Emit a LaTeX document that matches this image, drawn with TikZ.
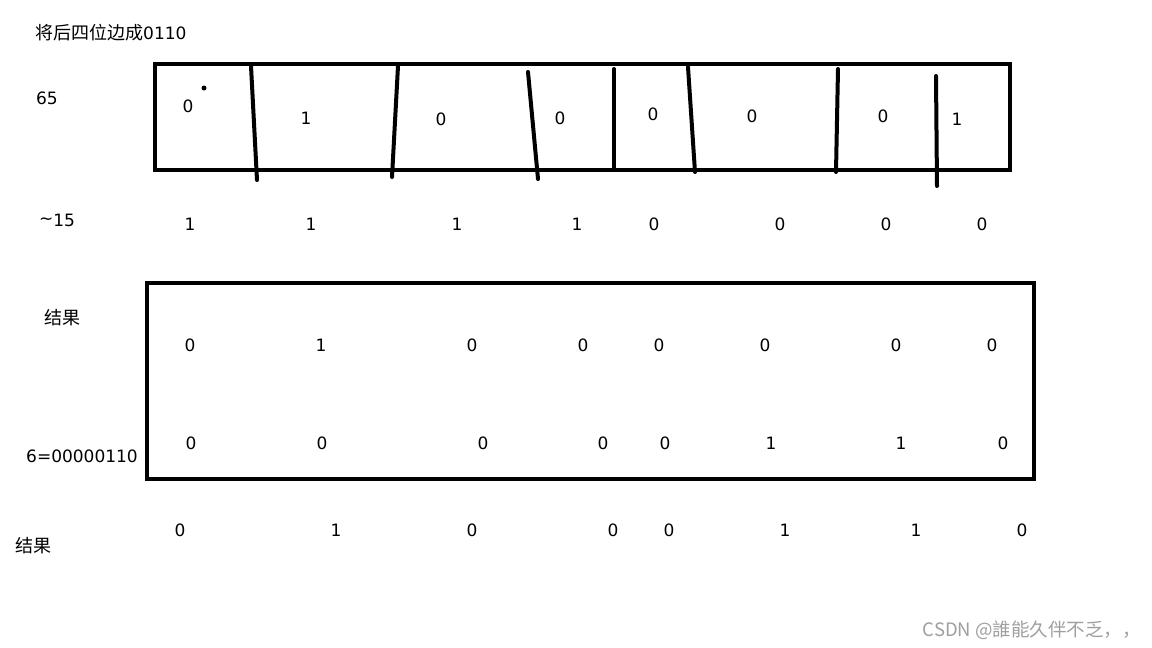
\documentclass[tikz,border=0pt]{standalone}
\usepackage{fontspec}
\setmainfont{DejaVu Sans}
\newfontfamily\cjk{Noto Sans CJK SC}
\begin{document}
\begin{tikzpicture}[x=1pt,y=-1pt,
  txt/.style={inner sep=0pt,font=\fontsize{17}{20}\selectfont},
  frame/.style={line width=4pt},
  divider/.style={line width=4pt,line cap=round},
  wmark/.style={text=gray!75,inner sep=0pt,font=\cjk\fontsize{18.5}{20}\selectfont}]
\useasboundingbox[fill=white] (0,0) rectangle (1152,648);
% labels
\node[txt,anchor=west] (title) at (35,33) {{\cjk\fontsize{18}{20}\selectfont 将后四位边成}0110};
\node[txt] (l65) at (47,98) {65};
\node[txt] (l15) at (57,220) {\raisebox{2pt}{\textasciitilde}15};
\node[txt] (lres1) at (62,318) {\cjk\fontsize{18}{20}\selectfont 结果};
\node[txt] (l6) at (82,456) {6=00000110};
\node[txt] (lres2) at (34,546) {\cjk\fontsize{18}{20}\selectfont 结果};
% box 1
\draw[frame] (155,64) rectangle (1010,170);
\draw[divider] (251,66) -- (257,180);
\draw[divider] (398,66) -- (392,177);
\draw[divider] (528,72) -- (538,179);
\draw[divider] (614,69) -- (614,168);
\draw[divider] (688,67) -- (695,172);
\draw[divider] (838,69) -- (836,172);
\draw[divider] (936,76) -- (937,186);
\fill (204,88) circle (2.5pt);
\foreach \x/\y/\v [count=\i] in {188/106/0,306/118/1,441/119/0,560/118/0,653/114/0,752/116/0,883/116/0,957/119/1}
  \node[txt] (a\i) at (\x,\y) {\v};
% row ~15
\foreach \x/\v [count=\i] in {190/1,311/1,457/1,577/1,654/0,780/0,886/0,982/0}
  \node[txt] (b\i) at (\x,224) {\v};
% box 2
\draw[frame] (147,283) rectangle (1034,479);
\foreach \x/\v [count=\i] in {190/0,321/1,472/0,583/0,659/0,765/0,896/0,992/0}
  \node[txt] (c\i) at (\x,345) {\v};
\foreach \x/\v [count=\i] in {191/0,322/0,483/0,603/0,665/0,771/1,901/1,1003/0}
  \node[txt] (d\i) at (\x,443) {\v};
% result row
\foreach \x/\v [count=\i] in {180/0,336/1,472/0,613/0,669/0,785/1,916/1,1022/0}
  \node[txt] (e\i) at (\x,530) {\v};
% watermark
\node[wmark,anchor=east] (wm) at (1141,630) {CSDN @誰能久伴不乏，，};
\end{tikzpicture}
\end{document}
